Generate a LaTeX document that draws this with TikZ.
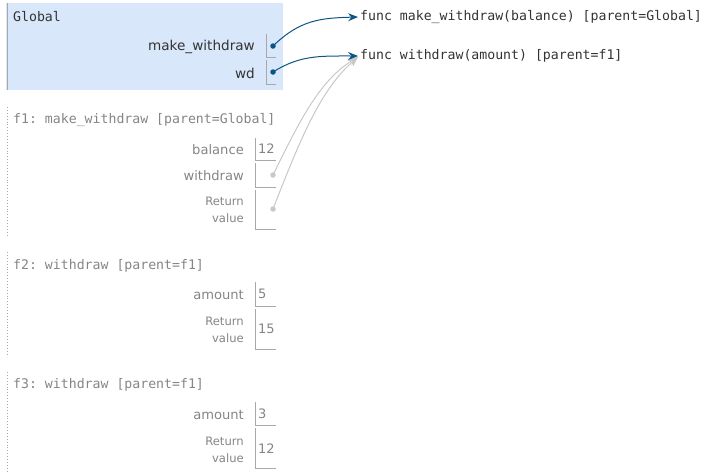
\documentclass[tikz,border=0pt]{standalone}
\usepackage{fontspec}
\setmainfont{DejaVu Sans}
\setmonofont{DejaVu Sans Mono}
\usepackage{tikz}
\usetikzlibrary{arrows.meta, positioning}
\definecolor{globalbg}{HTML}{D9E7FA}
\definecolor{ptrblue}{HTML}{0B5585}
\definecolor{edgegray}{HTML}{A8A8A8}
\definecolor{deadgray}{HTML}{C8C8C8}
\definecolor{titlegray}{HTML}{858585}
\definecolor{darktext}{HTML}{333333}

\tikzset{
  frametitle/.style={anchor=west, inner sep=0pt, font=\ttfamily\fontsize{13.2}{15}\selectfont},
  varlab/.style={anchor=east, inner sep=0pt, font=\fontsize{13.6}{15}\selectfont},
  oldlab/.style={anchor=east, inner sep=0pt, titlegray, font=\fontsize{13.1}{15}\selectfont},
  retlab/.style={anchor=east, inner sep=0pt, align=right, font=\fontsize{11.6}{17}\selectfont},
  val/.style={anchor=west, inner sep=0pt, font=\fontsize{13}{15}\selectfont},
  funcobj/.style={anchor=west, inner sep=0pt, darktext, font=\ttfamily\fontsize{13.2}{15}\selectfont},
  cell/.style={draw=edgegray, line width=0.9pt},
  dot/.style={circle, fill, inner sep=0pt, minimum size=5.5pt},
  ptr/.style={-{Stealth[length=10pt, width=8pt, inset=3.5pt]}, line width=1pt},
}

\begin{document}
\begin{tikzpicture}[x=1pt, y=-1pt]
\useasboundingbox (0,0) rectangle (707,474);
% global frame
\fill [globalbg] (6,3) rectangle (283,90);
\draw [edgegray, line width=1pt] (7,3) -- (7,90);
\node [frametitle, darktext] (gtitle) at (13,17) {Global};
\node [varlab, darktext] (mwlab) at (255,47) {make\_withdraw};
\draw [cell] (266,34) |- (276,57);
\node [dot, ptrblue] (mwdot) at (273,46) {};
\node [varlab, darktext] (wdlab) at (255,73) {wd};
\draw [cell] (266,60) |- (276,84);
\node [dot, ptrblue] (wddot) at (273,72) {};

% function objects
\node [funcobj] (fmw) at (360,17) {func make\_withdraw(balance) [parent=Global]};
\node [funcobj] (fwd) at (360,56) {func withdraw(amount) [parent=f1]};

% f1
\draw [edgegray, dotted, line width=0.9pt] (7,107) -- (7,237);
\node [frametitle, titlegray] (f1title) at (13,120) {f1: make\_withdraw [parent=Global]};
\node [oldlab] (ballab) at (244,150) {balance};
\draw [cell] (255,138) |- (276,160);
\node [val, titlegray] (balval) at (258,149) {12};
\node [oldlab] (wlab) at (244,176) {withdraw};
\draw [cell] (255,163) |- (276,187);
\node [dot, deadgray] (wdot) at (273,175) {};
\node [retlab, titlegray] (f1ret) at (244,210) {Return\\value};
\draw [cell] (255,190) |- (276,229);
\node [dot, deadgray] (rdot) at (273,209) {};

% f2
\draw [edgegray, dotted, line width=0.9pt] (7,252) -- (7,355);
\node [frametitle, titlegray] (f2title) at (13,266) {f2: withdraw [parent=f1]};
\node [oldlab] (f2amt) at (244,295) {amount};
\draw [cell] (255,282) |- (276,306);
\node [val, titlegray] (f2amtval) at (258,294) {5};
\node [retlab, titlegray] (f2ret) at (244,330) {Return\\value};
\draw [cell] (255,309) |- (276,349);
\node [val, titlegray] (f2retval) at (258,329) {15};

% f3
\draw [edgegray, dotted, line width=0.9pt] (7,372) -- (7,474);
\node [frametitle, titlegray] (f3title) at (13,385) {f3: withdraw [parent=f1]};
\node [oldlab] (f3amt) at (244,415) {amount};
\draw [cell] (255,402) |- (276,425);
\node [val, titlegray] (f3amtval) at (258,414) {3};
\node [retlab, titlegray] (f3ret) at (244,450) {Return\\value};
\draw [cell] (255,428) |- (276,468);
\node [val, titlegray] (f3retval) at (258,449) {12};

% pointers
\draw [ptr, deadgray] (wdot.center) .. controls (300,120) and (320,80) .. ([xshift=-2pt, yshift=-1pt]fwd.west);
\draw [ptr, deadgray] (rdot.center) .. controls (300,140) and (320,90) .. ([xshift=-2pt, yshift=-1pt]fwd.west);
\draw [ptr, ptrblue] (mwdot.center) .. controls (300,20) and (320,18) .. ([xshift=-2pt]fmw.west);
\draw [ptr, ptrblue] (wddot.center) .. controls (300,55) and (320,56) .. ([xshift=-2pt]fwd.west);
\end{tikzpicture}
\end{document}
